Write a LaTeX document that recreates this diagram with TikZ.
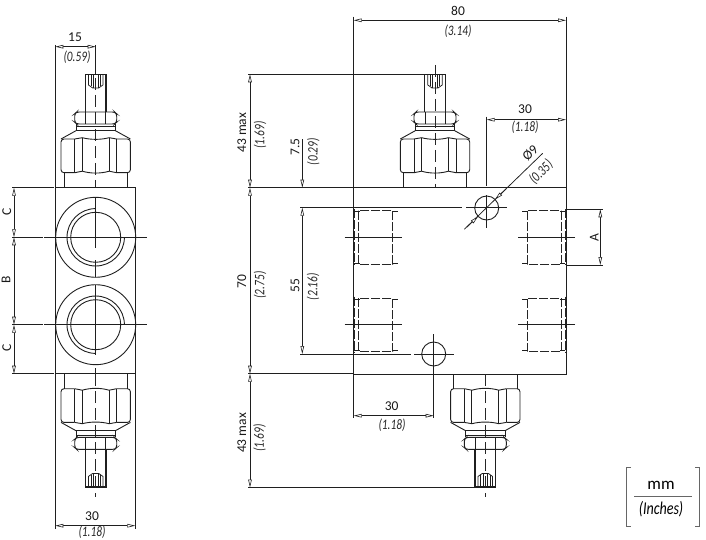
\documentclass[tikz,border=0pt]{standalone}
\usepackage{fontspec}
\setmainfont[ItalicFeatures={FakeStretch=0.78}]{Carlito}
\usetikzlibrary{arrows.meta}

\tikzset{
  dimtip/.tip = {Triangle[open,fill=white,length=8pt,width=3.6pt,line width=0.6pt]},
  thinline/.style = {line width=0.75pt, draw=black!88},
  outline/.style = {line width=0.9pt, draw=black!88},
  axisline/.style = {line width=0.8pt, draw=black!85, dash pattern=on 12pt off 5pt},
  portline/.style = {line width=0.85pt, draw=black!85, dash pattern=on 9pt off 2pt},
  dimline/.style = {line width=0.75pt, draw=black!88, dimtip-dimtip},
  dimend/.style = {line width=0.75pt, draw=black!88, -dimtip},
  mainsize/.style = {inner sep=0pt, font=\fontsize{13.5}{14}\selectfont, text=black!90},
  inchsize/.style = {inner sep=0pt, font=\fontsize{14.5}{15}\selectfont\itshape, text=black!85},
  hole/.style = {circle, draw=black!88, line width=0.9pt, minimum size=24pt, inner sep=0pt},
  valve/.pic = {
    \draw[outline, line width=1.3pt] (-10.4,-75.7) -- (-10.4,-113.4) -- (10.4,-113.4) -- (10.4,-75.7);
    \draw[thinline] (-7.2,-113.4) -- (-7.2,-102.7) -- (-3,-99.7) -- (3,-99.7) -- (7.2,-102.7) -- (7.2,-113.4);
    \draw[thinline] (-4.8,-113.4) -- (-4.8,-101.5);
    \draw[thinline] (-2.4,-113.4) -- (-2.4,-100);
    \draw[thinline] (2.4,-113.4) -- (2.4,-100);
    \draw[thinline] (4.8,-113.4) -- (4.8,-101.5);
    \draw[outline, rounded corners=2.5pt] (-19,-63.7) -- (-21,-65.5) -- (-21,-73.9) -- (-19,-75.7) -- (19,-75.7) -- (21,-73.9) -- (21,-65.5) -- (19,-63.7) -- cycle;
    \draw[outline] (-10,-75.7) -- (-10,-63.7);
    \draw[outline] (10,-75.7) -- (10,-63.7);
    \draw[outline] (-19.7,-63.7) -- (-19.7,-57) -- (19.7,-57) -- (19.7,-63.7);
    \draw[outline] (-19.7,-61.5) -- (19.7,-61.5);
    \draw[outline] (-19.7,-57) -- (-34.7,-48.7);
    \draw[outline] (19.7,-57) -- (34.7,-48.7);
    \draw[outline, rounded corners=3pt] (-21,-48.7) -- (-34.7,-48.7) -- (-34.7,-15) -- (-21,-15);
    \draw[outline, rounded corners=3pt] (21,-48.7) -- (34.7,-48.7) -- (34.7,-15) -- (21,-15);
    \draw[outline] (-21,-48.7) -- (-13.4,-50) .. controls (-5,-47.8) and (5,-47.8) .. (13.4,-50) -- (21,-48.7);
    \draw[outline] (-21,-15) -- (-13.4,-16.5) .. controls (-5,-14) and (5,-14) .. (13.4,-16.5) -- (21,-15);
    \draw[outline] (-21,-48.7) -- (-21,-15);
    \draw[outline] (21,-48.7) -- (21,-15);
    \draw[outline] (-13.4,-50) -- (-13.4,-16.5);
    \draw[outline] (13.4,-50) -- (13.4,-16.5);
    \draw[outline] (-31.7,-15) -- (-31.7,0);
    \draw[outline] (31.7,-15) -- (31.7,0);
  },
  port/.pic = {
    \draw[portline] (4.6,-26.6) rectangle (39,27);
    \draw[line width=1.2pt, draw=black!85, dash pattern=on 9pt off 2pt] (0.6,-28) -- (0.6,28);
    \draw[thinline] (0.6,-25.6) -- (6,-25.6);
    \draw[thinline] (0.6,25.6) -- (6,25.6);
    \draw[thinline] (39,-25.6) -- (44.3,-25.6);
    \draw[thinline] (39,25.6) -- (44.3,25.6);
    \draw[thinline] (-9,0) -- (48,0);
  }
}

\begin{document}
\begin{tikzpicture}[x=1pt,y=-1pt]
\useasboundingbox (0,0) rectangle (706,540);

% left view
\pic at (95.7,187.7) {valve};
\pic[yscale=-1] at (95.7,373.7) {valve};
\draw[outline] (55.3,187.7) rectangle (135.3,373.7);
\draw[outline] (95.7,237.3) circle (40);
\draw[outline] (95.7,324.7) circle (40);
\draw[outline] (95.7,237.3) circle (25);
\draw[outline] (95.7,324.7) circle (25);
\draw[outline] (124.4,237.3) arc (0:270:28.7);
\draw[outline] (95.7,353.4) arc (90:360:28.7);
\draw[thinline] (44,237.3) -- (146.7,237.3);
\draw[thinline] (44,324.7) -- (146.7,324.7);
\draw[thinline] (95.7,197.3) -- (95.7,247.7);
\draw[thinline] (95.7,260) -- (95.7,277.3);
\draw[thinline] (95.7,285) -- (95.7,355);
\draw[thinline] (95.7,368.3) -- (95.7,373.7);
\draw[thinline] (95.7,45) -- (95.7,75);
\draw[axisline] (95.7,78) -- (95.7,187);
\draw[axisline] (95.7,374) -- (95.7,496.7);
\draw[thinline] (55.3,45) -- (55.3,187);
\draw[thinline] (55.3,374) -- (55.3,529);
\draw[thinline] (135.3,374) -- (135.3,529);
\draw[thinline] (12,187.7) -- (54,187.7);
\draw[thinline] (12,237.3) -- (42.7,237.3);
\draw[thinline] (12,324.7) -- (42.7,324.7);
\draw[thinline] (12,373.7) -- (54,373.7);
\draw[dimline] (55.3,46.7) -- (95.7,46.7);
\draw[dimline] (14,187.7) -- (14,237.3);
\draw[dimline] (14,237.3) -- (14,324.7);
\draw[dimline] (14,324.7) -- (14,373.7);
\draw[dimline] (55.3,525.7) -- (135.3,525.7);
\node[mainsize] (w15) at (75,37) {15};
\node[inchsize] (w15in) at (77,57) {(0.59)};
\node[mainsize, rotate=90] (sizeC1) at (6.7,211.7) {C};
\node[mainsize, rotate=90] (sizeB) at (6,280) {B};
\node[mainsize, rotate=90] (sizeC2) at (6.7,348) {C};
\node[mainsize] (w30a) at (92,516) {30};
\node[inchsize] (w30ain) at (92,532.5) {(1.18)};

% right view
\pic at (435,187.7) {valve};
\pic[yscale=-1] at (485.3,373.7) {valve};
\draw[outline] (353.7,187.7) rectangle (566,374);
\pic at (353.7,237.3) {port};
\pic at (353.7,324.7) {port};
\pic[xscale=-1] at (566,237.3) {port};
\pic[xscale=-1] at (566,324.7) {port};
\node[hole] (hole1) at (486.7,208) {};
\node[hole] (hole2) at (433.7,354) {};
\draw[axisline] (435,65) -- (435,187);
\draw[axisline] (485.3,374) -- (485.3,496.7);
\draw[thinline] (353.7,16.7) -- (353.7,187);
\draw[thinline] (566,16.7) -- (566,187);
\draw[thinline] (353.7,374) -- (353.7,418);
\draw[thinline] (486.7,116.7) -- (486.7,186);
\draw[thinline] (486.7,195) -- (486.7,228.3);
\draw[thinline] (433.7,334) -- (433.7,418);
\draw[thinline] (248,74.3) -- (424.7,74.3);
\draw[thinline] (248,187.7) -- (353,187.7);
\draw[thinline] (300,207.7) -- (462,207.7);
\draw[thinline] (466,207.7) -- (507,207.7);
\draw[thinline] (300,354) -- (411,354);
\draw[thinline] (414,354) -- (454,354);
\draw[thinline] (248,373.7) -- (353,373.7);
\draw[thinline] (248,487.5) -- (475,487.5);
\draw[thinline] (566,209.3) -- (603.3,209.3);
\draw[thinline] (566,265) -- (603.3,265);
\draw[dimline] (353.7,20.3) -- (566,20.3);
\draw[dimline] (486.7,119.7) -- (566,119.7);
\draw[dimline] (353.7,415.7) -- (433.7,415.7);
\draw[dimline] (250,74.3) -- (250,187.7);
\draw[dimline] (250,187.7) -- (250,373.7);
\draw[dimline] (250,373.7) -- (250,487.5);
\draw[dimend] (302.3,139.3) -- (302.3,187.7);
\draw[dimline] (302.3,207.7) -- (302.3,354);
\draw[dimline] (600.3,209.3) -- (600.3,265);
\draw[thinline] (464.3,229.3) -- (542.7,153.3);
\draw[dimend] (506,189) -- (495,199.5);
\draw[dimend] (467,227) -- (478,216.5);
\node[mainsize] (w80) at (458,10.7) {80};
\node[inchsize] (w80in) at (458,31.7) {(3.14)};
\node[mainsize] (w30b) at (525,109.3) {30};
\node[inchsize] (w30bin) at (525,127.7) {(1.18)};
\node[mainsize] (w30c) at (391.7,405.7) {30};
\node[inchsize] (w30cin) at (392,425) {(1.18)};
\node[mainsize, rotate=90] (h43a) at (241.7,132.7) {43 max};
\node[inchsize, rotate=90] (h43ain) at (260,135) {(1.69)};
\node[mainsize, rotate=90] (h70) at (241.7,281.7) {70};
\node[inchsize, rotate=90] (h70in) at (260,285) {(2.75)};
\node[mainsize, rotate=90] (h43b) at (241.7,433) {43 max};
\node[inchsize, rotate=90] (h43bin) at (259.5,438) {(1.69)};
\node[mainsize, rotate=90] (h75) at (295,147) {7.5};
\node[inchsize, rotate=90] (h75in) at (313.3,151.7) {(0.29)};
\node[mainsize, rotate=90] (h55) at (295,286) {55};
\node[inchsize, rotate=90] (h55in) at (313,286.7) {(2.16)};
\node[mainsize, rotate=90] (sizeA) at (594.3,237.7) {A};
\node[mainsize, rotate=45] (d9) at (530.3,153.3) {Ø9};
\node[inchsize, rotate=45] (d9in) at (541,172) {(0.35)};

% units
\draw[thinline, draw=black!60] (631,467.3) -- (626.7,467.3) -- (626.7,526) -- (631,526);
\draw[thinline, draw=black!60] (695,467.3) -- (699.3,467.3) -- (699.3,526) -- (695,526);
\draw[thinline, draw=black!60] (634,496.7) -- (692,496.7);
\node[inner sep=0pt, font=\fontsize{17}{18}\selectfont] (unitmm) at (661,485) {mm};
\node[inner sep=0pt, font=\fontsize{18}{18}\selectfont\itshape] (unitin) at (661,509) {(Inches)};
\end{tikzpicture}
\end{document}
